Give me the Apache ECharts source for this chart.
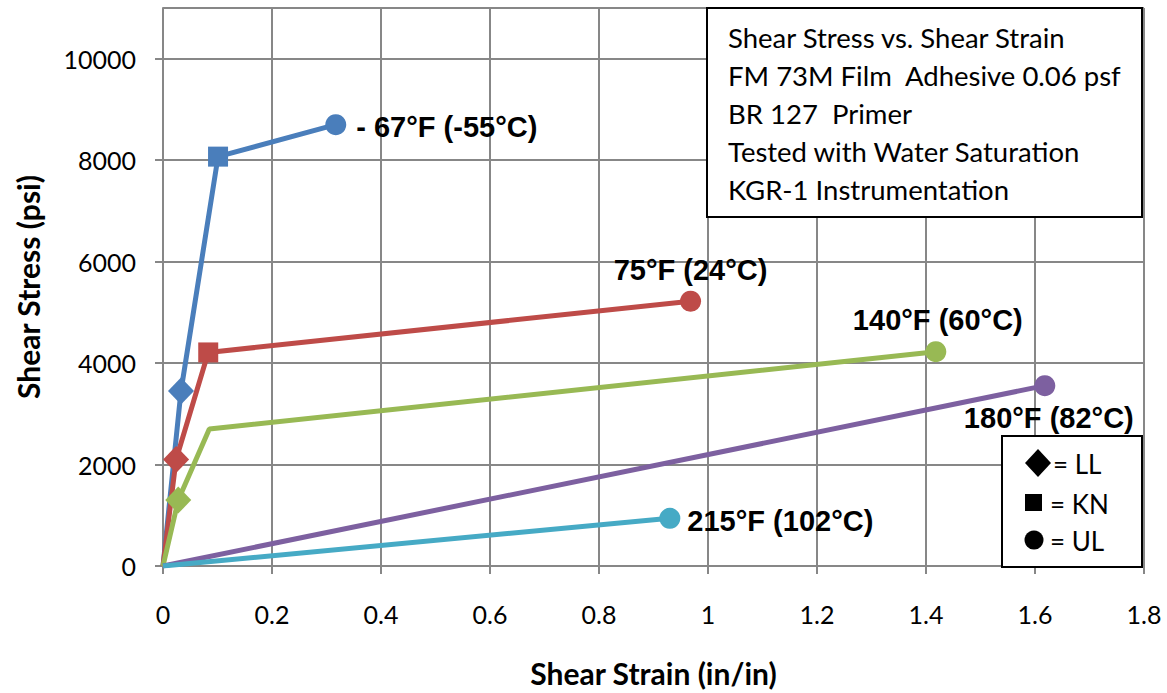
<!DOCTYPE html>
<html><head><meta charset="utf-8">
<script src="https://cdn.jsdelivr.net/npm/echarts@6/dist/echarts.min.js"></script>
<style>html,body{margin:0;padding:0;background:#fff;overflow:hidden;width:1167px;height:693px}#c{width:1167px;height:693px;overflow:hidden}</style>
</head><body><div id="c"></div>
<script>
// ---- data ----
const seriesNames = ['-67°F', '75°F', '140°F', '180°F', '215°F'];
const endLabels = ['- 67°F (-55°C)', '75°F (24°C)', '140°F (60°C)', '180°F (82°C)', '215°F (102°C)'];

const strainM67 = [0, 0.033, 0.101, 0.317];
const stressM67 = [0, 3450, 8070, 8700];
const pointM67  = ['', 'LL', 'KN', 'UL'];

const strain75 = [0, 0.024, 0.083, 0.968];
const stress75 = [0, 2100, 4210, 5220];
const point75  = ['', 'LL', 'KN', 'UL'];

const strain140 = [0, 0.028, 0.085, 1.418];
const stress140 = [0, 1300, 2700, 4225];
const point140  = ['', 'LL', '', 'UL'];

const strain180 = [0, 1.618];
const stress180 = [0, 3555];
const point180  = ['', 'UL'];

const strain215 = [0, 0.930];
const stress215 = [0, 940];
const point215  = ['', 'UL'];

const noteLines = ['Shear Stress vs. Shear Strain', 'FM 73M Film  Adhesive 0.06 psf', 'BR 127  Primer', 'Tested with Water Saturation', 'KGR-1 Instrumentation'];
const keyTypes = ['LL', 'KN', 'UL'];

// ---- styles ----
const colors = ['#4A7EBB', '#BE4B48', '#98B954', '#7D60A0', '#46AAC5'];
const symbolOf = {LL: 'diamond', KN: 'rect', UL: 'circle'};
const sizeOf = {LL: [26, 27], KN: 20, UL: 21};
const labelPos = [
  {position: 'right', distance: 10, offset: [0, 2]},
  {position: 'top', distance: 6, offset: [0, 0]},
  {position: 'top', distance: 7, offset: [2, 0]},
  {position: 'bottom', distance: 7, offset: [4, 0]},
  {position: 'right', distance: 7, offset: [0, 3]}
];
const gridGray = '#878787';
const calibriLike = 'Lato, "Open Sans", sans-serif';

const sets = [
  [strainM67, stressM67, pointM67],
  [strain75, stress75, point75],
  [strain140, stress140, point140],
  [strain180, stress180, point180],
  [strain215, stress215, point215]
];

const series = sets.map(function (s, i) {
  const n = s[0].length;
  const data = s[0].map(function (x, j) {
    const t = s[2][j];
    const item = {value: [x, s[1][j]]};
    if (t) {
      item.symbol = symbolOf[t];
      item.symbolSize = sizeOf[t];
    } else {
      item.symbol = 'none';
    }
    if (j === n - 1) {
      item.label = Object.assign({
        show: true,
        formatter: endLabels[i],
        fontFamily: '"Liberation Sans", Arial, sans-serif',
        fontWeight: 'bold',
        fontSize: 29,
        color: '#000'
      }, labelPos[i]);
    }
    return item;
  });
  return {
    name: seriesNames[i],
    type: 'line',
    data: data,
    showAllSymbol: true,
    color: colors[i],
    lineStyle: {width: 5, color: colors[i]},
    itemStyle: {color: colors[i]},
    emphasis: {disabled: true},
    animation: false,
    z: 3 + i
  };
});

// note box
const noteLeft = 707, noteTop = 8, noteW = 435, noteH = 209;
const graphics = [{
  type: 'rect', z: 100,
  shape: {x: noteLeft, y: noteTop, width: noteW, height: noteH},
  style: {fill: '#fff', stroke: '#000', lineWidth: 2}
}];
noteLines.forEach(function (t, k) {
  graphics.push({
    type: 'text', z: 101, x: 728, y: 37 + k * 38,
    style: {text: t, fill: '#000', font: '27.5px ' + calibriLike, textVerticalAlign: 'middle', textAlign: 'left'}
  });
});
// marker key box
graphics.push({
  type: 'rect', z: 100,
  shape: {x: 1002, y: 436, width: 140, height: 131},
  style: {fill: '#fff', stroke: '#000', lineWidth: 2}
});
const keyY = [463, 503, 540];
keyTypes.forEach(function (t, k) {
  const cy = keyY[k];
  if (t === 'LL') {
    graphics.push({type: 'polygon', z: 101, shape: {points: [[1038, cy - 14], [1051, cy], [1038, cy + 14], [1025, cy]]}, style: {fill: '#000'}});
  } else if (t === 'KN') {
    graphics.push({type: 'rect', z: 101, shape: {x: 1025, y: cy - 9, width: 17, height: 17}, style: {fill: '#000'}});
  } else {
    graphics.push({type: 'circle', z: 101, shape: {cx: 1034, cy: cy, r: 9.5}, style: {fill: '#000'}});
  }
  graphics.push({
    type: 'text', z: 101, x: t === 'LL' ? 1053 : 1050, y: cy + 1,
    style: {text: '= ' + t, fill: '#000', font: '26px ' + calibriLike, textVerticalAlign: 'middle', textAlign: 'left'}
  });
});

const chart = echarts.init(document.getElementById('c'), null, {renderer: 'svg', width: 1167, height: 693});
chart.setOption({
  backgroundColor: '#fff',
  animation: false,
  grid: {left: 163, right: 23, top: 8, bottom: 125, containLabel: false},
  xAxis: {
    type: 'value', min: 0, max: 1.8, interval: 0.2,
    name: 'Shear Strain (in/in)', nameLocation: 'middle', nameGap: 92,
    nameTextStyle: {fontFamily: calibriLike, fontWeight: 'bold', fontSize: 30, color: '#000'},
    axisLine: {show: true, lineStyle: {color: gridGray, width: 2}},
    axisTick: {show: true, inside: false, length: 8, lineStyle: {color: gridGray, width: 2}},
    axisLabel: {fontFamily: calibriLike, fontSize: 25, color: '#000', margin: 35},
    splitLine: {show: true, lineStyle: {color: gridGray, width: 2}}
  },
  yAxis: {
    type: 'value', min: 0, max: 11000, interval: 2000,
    name: 'Shear Stress (psi)', nameLocation: 'middle', nameGap: 120,
    nameTextStyle: {fontFamily: calibriLike, fontWeight: 'bold', fontSize: 30, color: '#000'},
    axisLine: {show: true, lineStyle: {color: gridGray, width: 2}},
    axisTick: {show: true, inside: false, length: 8, lineStyle: {color: gridGray, width: 2}},
    axisLabel: {fontFamily: calibriLike, fontSize: 25, color: '#000', margin: 27, showMaxLabel: false,
      formatter: function (v) { return String(v); }},
    splitLine: {show: true, lineStyle: {color: gridGray, width: 2}}
  },
  series: series,
  graphic: graphics
});
</script>
</body></html>
